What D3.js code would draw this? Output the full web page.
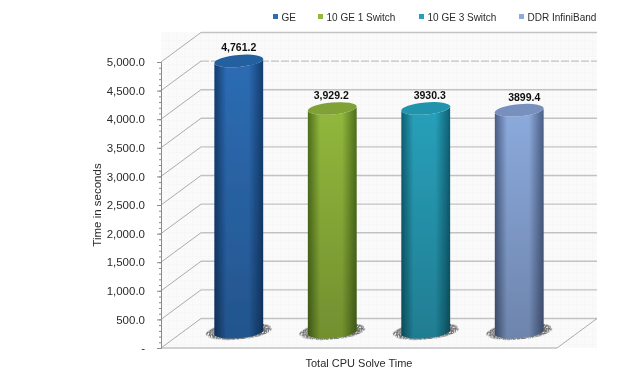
<!DOCTYPE html>
<html>
<head>
<meta charset="utf-8">
<script src="https://cdn.jsdelivr.net/npm/d3@7"></script>
<style>
  html, body { margin: 0; padding: 0; background: #fff; }
  svg { display: block; }
  text { font-family: "Liberation Sans", Arial, sans-serif; fill: #2b2b2b; }
</style>
</head>
<body>
<div id="chart"></div>
<script>
const seriesNames = ["GE", "10 GE 1 Switch", "10 GE 3 Switch", "DDR InfiniBand"];
const seriesValues = [4761.2, 3929.2, 3930.3, 3899.4];
const valueLabels = ["4,761.2", "3,929.2", "3930.3", "3899.4"];
const majorTicks = [0, 500, 1000, 1500, 2000, 2500, 3000, 3500, 4000, 4500, 5000];
const minorTicks = d3.range(0, 5001, 100);
const tickLabels = ["-", "500.0", "1,000.0", "1,500.0", "2,000.0", "2,500.0", "3,000.0", "3,500.0", "4,000.0", "4,500.0", "5,000.0"];
const categoryName = "Total CPU Solve Time";
const valueAxisName = "Time in seconds";

// edge, middle and top face colours of each cylinder
const edgeColors = ["#123d70", "#4d6e1c", "#0e5f72", "#4a5d84"];
const midColors = ["#2d6cb4", "#92b83c", "#28a0ba", "#8caadd"];
const topColors = ["#23619f", "#7fa136", "#2193ac", "#7790bd"];

const width = 626;
const height = 390;
const margin = { top: 62, right: 69, bottom: 42, left: 161 };
const depth = { x: 40, y: -29.5 };
const barRx = 24.5;
const barRy = 6;
const tilt = 5; // degrees, the cylinder ends lean up to the right
const labelNudge = [0, -1, 4, 5];
const labelLift = [10, 9, 9, 9];

const svg = d3.select("#chart").append("svg").attr("width", width).attr("height", height);
const defs = svg.append("defs");

const soft = defs.append("filter").attr("id", "soft").attr("x", 0).attr("y", 0)
  .attr("width", 1).attr("height", 1);
soft.append("feGaussianBlur").attr("stdDeviation", 0.35);

// speckled shadow under the cylinders
const speckle = defs.append("filter").attr("id", "speckle")
  .attr("x", "-10%").attr("y", "-30%").attr("width", "120%").attr("height", "160%");
speckle.append("feTurbulence").attr("type", "fractalNoise").attr("baseFrequency", 0.75)
  .attr("numOctaves", 2).attr("seed", 4).attr("result", "noise");
speckle.append("feColorMatrix").attr("in", "noise").attr("type", "matrix")
  .attr("values", "0 0 0 0 0  0 0 0 0 0  0 0 0 0 0  5 0 0 0 -1.6").attr("result", "dots");
speckle.append("feComposite").attr("in", "SourceGraphic").attr("in2", "dots").attr("operator", "in");

const grid = defs.append("pattern").attr("id", "wallGrid").attr("patternUnits", "userSpaceOnUse")
  .attr("width", 8).attr("height", 8);
grid.append("rect").attr("width", 8).attr("height", 8).attr("fill", "#fafafa");
grid.append("path").attr("d", "M0,0H8M0,0V8").attr("stroke", "#f4f4f4").attr("stroke-width", 1);

seriesNames.forEach((name, i) => {
  const side = defs.append("linearGradient").attr("id", `side${i}`);
  side.append("stop").attr("offset", "0%").attr("stop-color", edgeColors[i]);
  side.append("stop").attr("offset", "25%").attr("stop-color", midColors[i]);
  side.append("stop").attr("offset", "70%").attr("stop-color", midColors[i]);
  side.append("stop").attr("offset", "100%").attr("stop-color", edgeColors[i]);
});
const fade = defs.append("linearGradient").attr("id", "fade").attr("x1", 0).attr("x2", 0).attr("y1", 0).attr("y2", 1);
fade.append("stop").attr("offset", "0%").attr("stop-color", "#000").attr("stop-opacity", 0);
fade.append("stop").attr("offset", "100%").attr("stop-color", "#000").attr("stop-opacity", 0.22);

const yScale = d3.scaleLinear().domain([0, 5000]).range([height - margin.bottom, margin.top]);
const xScale = d3.scalePoint().domain(seriesNames).range([margin.left, width - margin.right]).padding(0.618);

const root = svg.append("g").attr("filter", "url(#soft)");

// walls
root.append("rect")
  .attr("x", margin.left).attr("y", yScale(5000) + depth.y)
  .attr("width", width - margin.right - margin.left + depth.x)
  .attr("height", yScale(0) - yScale(5000) - depth.y)
  .attr("fill", "url(#wallGrid)");

const wall = root.append("g");
wall.selectAll("line.back")
  .data(majorTicks)
  .join("line")
  .attr("class", "back")
  .attr("x1", margin.left + depth.x)
  .attr("x2", width - margin.right + depth.x)
  .attr("y1", (d) => yScale(d) + depth.y)
  .attr("y2", (d) => yScale(d) + depth.y)
  .attr("stroke", "#c2c2c2")
  .attr("stroke-width", 1.4)
  .attr("stroke-dasharray", (d) => (d === 4500 ? "8 2" : null));
wall.selectAll("line.diag")
  .data(majorTicks)
  .join("line")
  .attr("class", "diag")
  .attr("x1", margin.left)
  .attr("x2", margin.left + depth.x)
  .attr("y1", (d) => yScale(d))
  .attr("y2", (d) => yScale(d) + depth.y)
  .attr("stroke", "#a2a2a2")
  .attr("stroke-width", 0.9);
wall.append("line")
  .attr("x1", margin.left).attr("x2", width - margin.right)
  .attr("y1", yScale(0)).attr("y2", yScale(0))
  .attr("stroke", "#c2c2c2").attr("stroke-width", 1.4);
wall.append("line")
  .attr("x1", width - margin.right).attr("x2", width - margin.right + depth.x)
  .attr("y1", yScale(0)).attr("y2", yScale(0) + depth.y)
  .attr("stroke", "#a2a2a2").attr("stroke-width", 0.9);

// value axis
const minorAxis = d3.axisLeft(yScale).tickValues(minorTicks).tickSize(2).tickFormat("");
root.append("g").attr("transform", `translate(${margin.left},0)`).call(minorAxis)
  .call((g) => g.selectAll("line").attr("stroke", "#8a8a8a"))
  .call((g) => g.select(".domain").attr("stroke", "#8a8a8a"));

const majorAxis = d3.axisLeft(yScale)
  .tickValues(majorTicks)
  .tickSize(4)
  .tickPadding(12)
  .tickFormat((d, i) => tickLabels[i]);
root.append("g").attr("transform", `translate(${margin.left},0)`).call(majorAxis)
  .call((g) => g.select(".domain").remove())
  .call((g) => g.selectAll("line").attr("stroke", "#8a8a8a"))
  .call((g) => g.selectAll("text").attr("font-size", 11.5).attr("fill", "#2b2b2b")
    .style("font-family", '"Liberation Sans", Arial, sans-serif'));

// cylinders
const rad = (tilt * Math.PI) / 180;
const ex = barRx * Math.cos(rad);
const ey = barRx * Math.sin(rad);

const bars = root.selectAll("g.bar")
  .data(seriesNames.map((name, i) => ({ name, value: seriesValues[i], i })))
  .join("g")
  .attr("class", "bar")
  .attr("transform", (d) => `translate(${xScale(d.name) + depth.x / 2},${depth.y / 2})`);

bars.append("ellipse")
  .attr("cy", yScale(0) - 2)
  .attr("rx", 33)
  .attr("ry", 8)
  .attr("transform", `rotate(${-tilt},0,${yScale(0) - 2})`)
  .attr("fill", "#6f6f6f")
  .attr("filter", "url(#speckle)");

const bodyPath = (d) =>
  `M${-ex},${yScale(d.value) + ey}` +
  `L${-ex},${yScale(0) + ey - 1}` +
  `A${barRx},${barRy} ${-tilt} 0 0 ${ex},${yScale(0) - ey - 1}` +
  `L${ex},${yScale(d.value) - ey}` +
  `A${barRx},${barRy} ${-tilt} 0 1 ${-ex},${yScale(d.value) + ey}Z`;

bars.append("path").attr("d", bodyPath).attr("fill", (d) => `url(#side${d.i})`);
bars.append("path").attr("d", bodyPath).attr("fill", "url(#fade)");

bars.append("ellipse")
  .attr("cy", (d) => yScale(d.value))
  .attr("rx", barRx)
  .attr("ry", barRy)
  .attr("transform", (d) => `rotate(${-tilt},0,${yScale(d.value)})`)
  .attr("fill", (d) => topColors[d.i]);

bars.append("text")
  .attr("x", (d) => labelNudge[d.i])
  .attr("y", (d) => yScale(d.value) - labelLift[d.i])
  .attr("text-anchor", "middle")
  .attr("font-size", 10.5)
  .attr("font-weight", "bold")
  .style("fill", "#111")
  .text((d, i) => valueLabels[i]);

// axis titles
root.append("text")
  .attr("transform", "translate(101,205) rotate(-90)")
  .attr("text-anchor", "middle")
  .attr("font-size", 11.5)
  .text(valueAxisName);
root.append("text")
  .attr("x", 359)
  .attr("y", 367)
  .attr("text-anchor", "middle")
  .attr("font-size", 11)
  .text(categoryName);

// legend
const legendSwatchX = [273, 318, 419, 519];
const legend = root.selectAll("g.legend")
  .data(seriesNames)
  .join("g")
  .attr("class", "legend")
  .attr("transform", (d, i) => `translate(${legendSwatchX[i]},14)`);
legend.append("rect").attr("width", 5).attr("height", 5).attr("fill", (d, i) => midColors[i]);
legend.append("text").attr("x", 8.5).attr("y", 7).attr("font-size", 10).text((d) => d);
</script>
</body>
</html>
